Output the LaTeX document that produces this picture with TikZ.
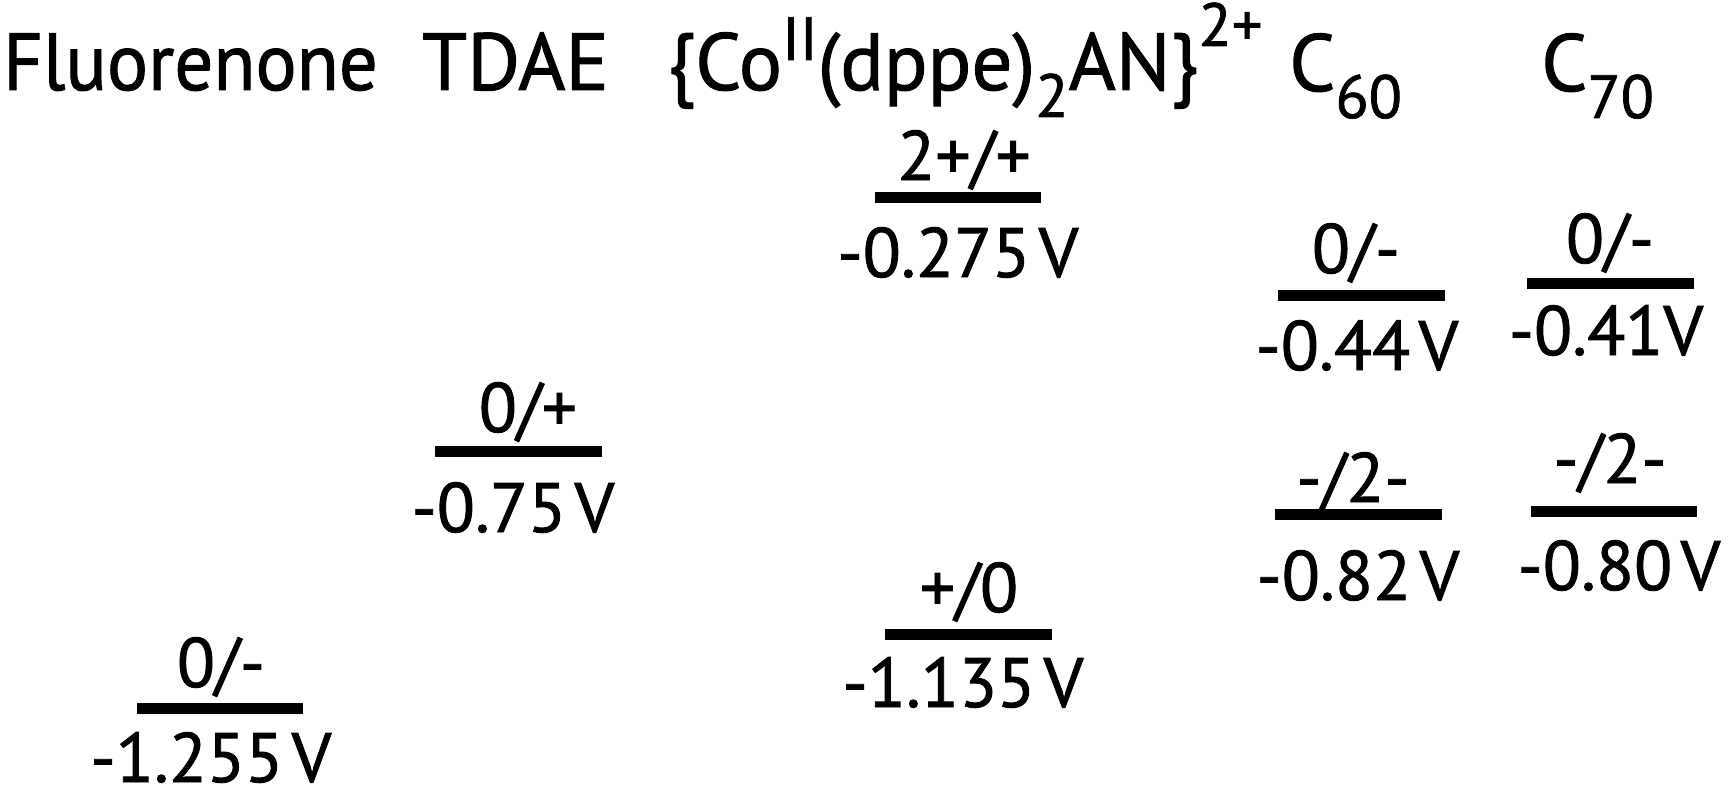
\documentclass[tikz,border=0pt]{standalone}
\usepackage{fontspec}
\setmainfont{PT Sans}[FakeBold=1.2,AutoFakeBold=0]
\newcommand{\ttlfont}{\fontsize{81}{90}\selectfont}
\newcommand{\scrfont}{\fontsize{61}{70}\selectfont}
\newcommand{\labfont}{\fontsize{70}{80}\selectfont}
\newcommand{\vsp}{\hspace{0.12em}}
\newcommand{\upr}[2]{\raisebox{#1pt}{\scrfont #2}}
\tikzset{
  lvl/.style={line width=11pt, line cap=butt},
  lab/.style={anchor=base, inner sep=0pt, font=\labfont},
  ttl/.style={anchor=base west, inner sep=0pt, font=\ttlfont},
}
\begin{document}
\begin{tikzpicture}[x=1pt,y=-1pt]
\useasboundingbox (0,0) rectangle (1728,789);
% titles
\node[ttl] (tF) at (3,90) {\scalebox{0.95}[1]{Fluorenone}};
\node[ttl] (tT) at (422,90) {TDAE};
\node[ttl] (tC) at (667,90) {\{Co\upr{30}{II}(dppe)\upr{-27}{2}AN\}\upr{44}{2+}};
\node[ttl] (t60) at (1289,91) {C\upr{-27}{60}};
\node[ttl] (t70) at (1541,91) {C\upr{-27}{70}};
% levels
\coordinate (F1) at (137,708); \coordinate (F2) at (303,708);
\coordinate (T1) at (435,451); \coordinate (T2) at (602,451);
\coordinate (Ca1) at (875,197); \coordinate (Ca2) at (1041,197);
\coordinate (Cb1) at (885,634); \coordinate (Cb2) at (1052,634);
\coordinate (Sa1) at (1278,295); \coordinate (Sa2) at (1445,295);
\coordinate (Sb1) at (1275,514); \coordinate (Sb2) at (1442,514);
\coordinate (Ea1) at (1527,283); \coordinate (Ea2) at (1694,283);
\coordinate (Eb1) at (1531,511); \coordinate (Eb2) at (1697,511);
\draw[lvl] (F1) -- (F2);
\draw[lvl] (T1) -- (T2);
\draw[lvl] (Ca1) -- (Ca2);
\draw[lvl] (Cb1) -- (Cb2);
\draw[lvl] (Sa1) -- (Sa2);
\draw[lvl] (Sb1) -- (Sb2);
\draw[lvl] (Ea1) -- (Ea2);
\draw[lvl] (Eb1) -- (Eb2);
% couple labels
\node[lab] (lF) at (221,687) {0/-};
\node[lab] (lT) at (528,432) {0/+};
\node[lab] (lCa) at (964,180) {2+/+};
\node[lab] (lCb) at (969,612) {+/0};
\node[lab] (lSa) at (1356,273) {0/-};
\node[lab] (lEa) at (1610,263) {0/-};
\node[lab] (lSb) at (1353,502) {-/2-};
\node[lab] (lEb) at (1610,483) {-/2-};
% potentials
\node[lab] (vF) at (211,782) {-1.255\vsp V};
\node[lab] (vT) at (513,532) {-0.75\vsp V};
\node[lab] (vCa) at (958,277) {-0.275\vsp V};
\node[lab] (vCb) at (963,707) {-1.135\vsp V};
\node[lab] (vSa) at (1357,370) {-0.44\vsp V};
\node[lab] (vEa) at (1606,355) {-0.41V};
\node[lab] (vSb) at (1358,600) {-0.82\vsp V};
\node[lab] (vEb) at (1619,590) {-0.80\vsp V};
\end{tikzpicture}
\end{document}
